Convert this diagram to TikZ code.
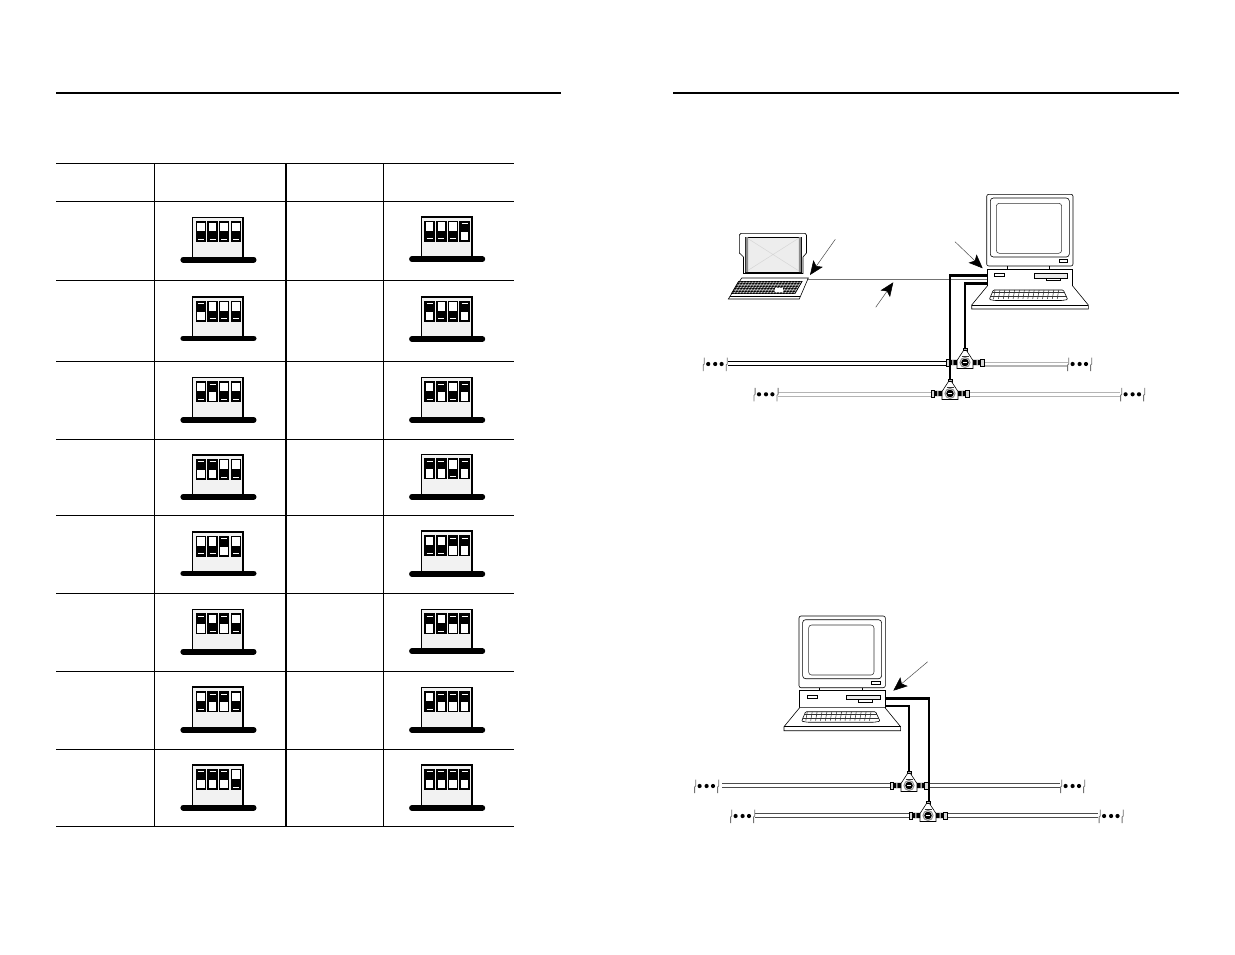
\documentclass[tikz,border=0pt]{standalone}
\usetikzlibrary{arrows.meta}
\definecolor{panel}{HTML}{F2F2F2}
\definecolor{pale}{HTML}{B4B4B4}
\tikzset{
  x=1pt,y=-1pt,
  rule/.style={line width=1pt,black},
  boxedge/.style={draw=black,line width=1.5pt,fill=panel},
  basebar/.style={line width=5.6pt,line cap=round,black},
  slider/.style={draw=black,line width=1.5pt,fill=white},
  thin part/.style={draw=black,line width=.6pt},
  soft part/.style={draw=black!80,line width=.55pt},
  pointer/.style={draw=black!70,line width=.5pt,-{Stealth[length=14pt,width=11.5pt,inset=3pt,black]}},
  bus black/.style={double=white,double distance=2.8pt,line width=1.1pt,draw=black},
  bus pale/.style={double=white,double distance=2.6pt,line width=1.2pt,draw=pale},
  bus mid/.style={double=white,double distance=3.2pt,line width=.8pt,draw=black!70},
  drop/.style={line width=2.6pt,black},
  dropthin/.style={line width=2pt,black},
  link/.style={line width=.7pt,black!55},
  dotmark/.style={fill=black,draw=none},
  breakmark/.style={draw=black!55,line width=.8pt},
}
% one switch: #1 = left x, #2 = 0 down / 1 up
\newcommand{\oneswitch}[2]{%
  \fill[white] (#1,0) rectangle ++(9,19.6);
  \ifnum#2=1
    \fill[black] (#1,0) rectangle ++(9,10.2);
    \draw[white,line width=.75pt] (#1+1.5,2.2) -- ++(6,0);
  \else
    \fill[black] (#1,9.4) rectangle ++(9,10.2);
    \draw[white,line width=.75pt] (#1+1.5,17.4) -- ++(6,0);
  \fi
  \path[draw=black,line width=1.5pt] (#1,0) rectangle ++(9,19.6);
}
% DIP block: left, top, height, four bits
\newcommand{\dip}[7]{%
  \begin{scope}[shift={(#1,#2)}]
    \path[boxedge] (0,#3) -- (0,0) -- (50.4,0) -- (50.4,#3);
    \draw[basebar] (-9.5,#3) -- (61,#3);
    \begin{scope}[shift={(0,4.6)}]
      \oneswitch{3.6}{#4}\oneswitch{15.4}{#5}\oneswitch{27}{#6}\oneswitch{38.8}{#7}
    \end{scope}
  \end{scope}}
% desktop computer, drawn at the first computer's position
\newcommand{\desktop}{%
  \path[thin part,fill=white,rounded corners=2pt] (986.7,194.3) rectangle (1073,266);
  \path[thin part,rounded corners=3pt] (990.3,198) rectangle (1069.3,257);
  \path[soft part,rounded corners=3pt] (996.3,203.3) rectangle (1061.7,253.3);
  \path[thin part] (1059,259.3) rectangle (1067.7,262.7);
  \draw[thin part] (1007,266) -- (1007,269) (1049.7,266) -- (1049.7,269);
  \path[thin part,fill=white] (987.3,269) rectangle (1072.7,286);
  \path[thin part] (994.7,273.3) rectangle (1004.7,276.7);
  \path[thin part,fill=black!8] (1034.3,273.3) rectangle (1067.7,278);
  \path[thin part] (1046,278) -- (1046,280.5) -- (1060,280.5) -- (1060,278);
  \path[thin part,fill=white] (987.3,286) -- (971.7,305) -- (971.7,309) -- (1088.3,309) -- (1088.3,305) -- (1072.7,286);
  \draw[thin part] (971.7,305) -- (1088.3,305);
  \path[thin part,rounded corners=1pt] (993.3,290) -- (1063.3,290) -- (1067.7,299.5) -- (1062,300.5) -- (995,300.5) -- (989.3,299.5) -- cycle;
  \draw[soft part] (992,292.7) -- (1064.6,292.7) (990.6,296.3) -- (1066.2,296.3);
  \foreach \k in {0,...,13}{\draw[soft part] ({995+\k*4.9},290) -- ({993.5+\k*4.9},299);}
}
% T connector centred on the origin
\newcommand{\teepart}{%
  \path[thin part,fill=black!30] (-2.2,-14.5) rectangle (2.2,-10);
  \path[thin part,fill=white] (-1.5,-12) -- (1.5,-12) -- (8,-2) -- (8,6) -- (-8,6) -- (-8,-2) -- cycle;
  \draw[soft part] (-3.5,-6.5) -- (3.5,-6.5);
  \path[thin part,fill=black!15] (-19,-3.4) rectangle (-15.5,3.4) (15.5,-3.4) rectangle (19,3.4);
  \fill[black] (-15.5,-2.6) rectangle (-8,2.6) (8,-2.6) rectangle (15.5,2.6);
  \fill[white] (-12.6,-2.6) rectangle (-11.6,2.6) (11.6,-2.6) rectangle (12.6,2.6);
  \draw[black!45,line width=1pt] (0,0) circle (5);
  \fill[black] (0,0) circle (3.8);
  \fill[white] (-1.8,-.4) rectangle (1.8,.4);
}
% three dots between two break marks: left mark x, y
\newcommand{\breakdots}[2]{%
  \begin{scope}[shift={(#1,#2)}]
    \draw[breakmark] (.7,-6.5) -- (.7,0) -- (-.4,1) -- (-.4,7);
    \draw[breakmark] (23.7,-6.5) -- (23.7,0) -- (22.6,1) -- (22.6,7);
    \fill[dotmark] (4.6,0) circle (2.1) (11.6,0) circle (2.1) (18,0) circle (2.1);
  \end{scope}}
\begin{document}
\begin{tikzpicture}
\useasboundingbox (0,0) rectangle (1235,954);
\fill[white] (0,0) rectangle (1235,954);

% header rules
\coordinate (ruleLa) at (56,93); \coordinate (ruleLb) at (561,93);
\coordinate (ruleRa) at (673,93); \coordinate (ruleRb) at (1179,93);
\draw[line width=1.5pt] (ruleLa) -- (ruleLb);
\draw[line width=1.5pt] (ruleRa) -- (ruleRb);

% table
\foreach \yy in {163.5,201.5,280.5,361.5,439.5,515.5,593.5,671.5,749.5,826.5}{\draw[rule] (56,\yy) -- (514,\yy);}
\draw[rule] (154.5,163) -- (154.5,827);
\draw[line width=2pt] (285.5,163) -- (285.5,827);
\draw[rule] (383.5,163) -- (383.5,827);

% left switches
\dip{192.7}{217.3}{42.4}{0}{0}{0}{0}
\dip{192.7}{296.8}{41.6}{1}{0}{0}{0}
\dip{192.7}{377.4}{42.6}{0}{1}{0}{0}
\dip{192.7}{455}{41.8}{1}{1}{0}{0}
\dip{192.7}{531.8}{41.6}{0}{0}{1}{0}
\dip{192.7}{609.4}{42.3}{1}{0}{1}{0}
\dip{192.7}{687.2}{42.8}{0}{1}{1}{0}
\dip{192.7}{765}{42.7}{1}{1}{1}{0}
% right switches
\dip{421.4}{216.8}{42.3}{0}{0}{0}{1}
\dip{421.4}{296.8}{42.2}{1}{0}{0}{1}
\dip{421.4}{377.4}{42.6}{0}{1}{0}{1}
\dip{421.4}{454.5}{42.2}{1}{1}{0}{1}
\dip{421.4}{531.2}{42.8}{0}{0}{1}{1}
\dip{421.4}{609.4}{41.7}{1}{0}{1}{1}
\dip{421.4}{687.4}{42.6}{0}{1}{1}{1}
\dip{421.4}{765}{43}{1}{1}{1}{1}

%% upper network
\coordinate (lapPort) at (808,279.3);
\coordinate (pcPortA) at (987.3,279.3);
\coordinate (pcPortB) at (987.3,275.7);
\coordinate (pcPortC) at (987.3,283.5);
\coordinate (teeA) at (965,362.5);
\coordinate (teeB) at (950,393.5);
\coordinate (teeAtop) at (965,350);
\coordinate (teeBtop) at (950,381);
\coordinate (busAl) at (728,363.8); \coordinate (busAm) at (946,363.8);
\coordinate (busAr) at (984,364); \coordinate (busAe) at (1068,364);
\coordinate (busBl) at (778,394.3); \coordinate (busBm) at (931,394.3);
\coordinate (busBr) at (969,394.3); \coordinate (busBe) at (1120,394.3);

\draw[link] (lapPort) -- (pcPortA);
\draw[bus black] (busAl) -- (busAm);
\draw[bus pale] (busAr) -- (busAe);
\draw[bus pale] (busBl) -- (busBm);
\draw[bus pale] (busBr) -- (busBe);
\breakdots{703.6}{364}
\breakdots{1068}{364}
\breakdots{754.4}{394.3}
\breakdots{1121}{394.3}

\desktop
\draw[drop] (pcPortB) -| (teeBtop);
\draw[drop] (pcPortC) -| (teeAtop);

% laptop
\path[thin part,fill=white] (741,233.3) -- (805,233.3) -- (806.5,235) -- (806.5,253) -- (803,257) -- (803,273.5) -- (743.5,273.5) -- (743.5,257) -- (739.4,253) -- (739.4,235) -- cycle;
\path[thin part,fill=black!7] (745.7,237) -- (801,237) -- (801,272) -- (745.7,272) -- cycle;
\draw[black!16,line width=.5pt] (747,238) -- (799,271) (747,271) -- (799,238);
\fill[black!45] (745.7,237) rectangle (748.2,272) (798.8,237) rectangle (801,272);
\path[thin part,fill=black!55] (762,278) rectangle (781,280.5);
\path[thin part,fill=white] (741.7,278) -- (808.3,278) -- (799.3,299) -- (728.3,299) -- cycle;
\draw[thin part] (729.5,296.5) -- (800.3,296.5);
\path[draw=black,line width=.7pt,fill=black!60] (738.5,281.5) -- (802,281.5) -- (795,293.5) -- (731.5,293.5) -- cycle;
\foreach \r in {283.5,286,288.5,291}{\draw[black,line width=.9pt] ({738.5-(\r-281.5)*.58},\r) -- ({802-(\r-281.5)*.58},\r);}
\foreach \k in {0,...,20}{\draw[white,line width=.3pt] ({741+\k*3},281.5) -- ({734+\k*3},293.5);}
\fill[white] (775,288) rectangle (783,292);

% tees of upper network
\begin{scope}[shift={(teeA)}]\teepart\end{scope}
\begin{scope}[shift={(teeB)}]\teepart\end{scope}

% pointers upper
\coordinate (ptrAa) at (835.3,239.3); \coordinate (ptrAb) at (810,275);
\coordinate (ptrBa) at (955,241.7); \coordinate (ptrBb) at (982.7,268.3);
\coordinate (ptrCa) at (875.7,307.3); \coordinate (ptrCb) at (893.3,282.3);
\draw[pointer] (ptrAa) -- (ptrAb);
\draw[pointer] (ptrBa) -- (ptrBb);
\draw[pointer] (ptrCa) -- (ptrCb);

%% lower network
\coordinate (teeC) at (909,785.5);
\coordinate (teeD) at (928,815.5);
\coordinate (teeCtop) at (909,773);
\coordinate (teeDtop) at (929,803);
\coordinate (pcLowA) at (885,698.3);
\coordinate (pcLowB) at (885,705.7);
\coordinate (busCl) at (722,785.5); \coordinate (busCm) at (890,785.5);
\coordinate (busCr) at (928,785.5); \coordinate (busCe) at (1060,785.5);
\coordinate (busDl) at (755,815.5); \coordinate (busDm) at (909,815.5);
\coordinate (busDr) at (947,815.5); \coordinate (busDe) at (1098,815.5);

\draw[bus mid] (busCl) -- (busCm);
\draw[bus mid] (busCr) -- (busCe);
\draw[bus mid] (busDl) -- (busDm);
\draw[bus mid] (busDr) -- (busDe);
\breakdots{695}{786}
\breakdots{1061}{786}
\breakdots{731}{816}
\breakdots{1099.5}{816}

\begin{scope}[shift={(-187.7,421.7)}]\desktop\end{scope}
\draw[drop] (pcLowA) -| (teeDtop);
\draw[dropthin] (pcLowB) -| (teeCtop);
\begin{scope}[shift={(teeC)}]\teepart\end{scope}
\begin{scope}[shift={(teeD)}]\teepart\end{scope}

\coordinate (ptrDa) at (927.7,661.7); \coordinate (ptrDb) at (893.3,690.7);
\draw[pointer] (ptrDa) -- (ptrDb);
\end{tikzpicture}
\end{document}
